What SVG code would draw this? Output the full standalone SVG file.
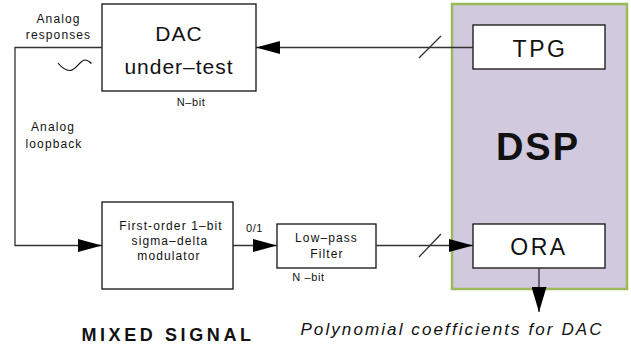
<svg xmlns="http://www.w3.org/2000/svg" width="631" height="347" viewBox="0 0 631 347">
<style>
  text { font-family: "Liberation Sans", Arial, sans-serif; fill: #111; }
  .box { fill: #fff; stroke: #111; stroke-width: 1.3; }
  .ln { fill: none; stroke: #333; stroke-width: 1.3; }
  .big { font-size: 21px; letter-spacing: 1px; }
  .blk { font-size: 23px; letter-spacing: 2.5px; }
  .sm { font-size: 12px; letter-spacing: 1.1px; }
  .xs { font-size: 11px; letter-spacing: 0.6px; }
</style>
<defs>
  <marker id="ah" markerUnits="userSpaceOnUse" markerWidth="24" markerHeight="13" refX="24" refY="6.5" orient="auto">
    <path d="M0,0 L24,6.5 L0,13 z" fill="#000"/>
  </marker>
  <marker id="ahd" markerUnits="userSpaceOnUse" markerWidth="25" markerHeight="15" refX="25" refY="7.5" orient="auto">
    <path d="M0,0 L25,7.5 L0,15 z" fill="#000"/>
  </marker>
</defs>

<g id="dsp">
  <rect x="452" y="4" width="175" height="285" fill="#d1c9de" stroke="#9bbb59" stroke-width="2.5"/>
  <text x="538" y="160" text-anchor="middle" font-size="38" font-weight="bold" letter-spacing="2">DSP</text>
</g>

<g id="tpg">
  <rect class="box" x="473" y="25" width="132" height="44"/>
  <text class="blk" x="540" y="56.5" text-anchor="middle">TPG</text>
</g>

<g id="ora">
  <rect class="box" x="473" y="224" width="132" height="44"/>
  <text class="blk" x="539" y="255" text-anchor="middle">ORA</text>
</g>

<g id="dac">
  <rect class="box" x="102" y="4" width="154" height="87"/>
  <text class="big" x="179" y="40.5" text-anchor="middle">DAC</text>
  <text class="big" x="179" y="74" text-anchor="middle">under–test</text>
  <text class="xs" x="191" y="106" text-anchor="middle">N–bit</text>
</g>

<g id="modulator">
  <rect class="box" x="102" y="202" width="131" height="87"/>
  <text class="sm" x="171" y="230" text-anchor="middle">First-order 1–bit</text>
  <text class="sm" x="170" y="245" text-anchor="middle">sigma–delta</text>
  <text class="sm" x="169" y="260" text-anchor="middle">modulator</text>
</g>

<g id="lowpass">
  <rect class="box" x="277" y="224" width="99" height="44"/>
  <text class="sm" x="326.5" y="242" text-anchor="middle">Low–pass</text>
  <text class="sm" x="327" y="257.5" text-anchor="middle">Filter</text>
  <text class="xs" x="308.5" y="281" text-anchor="middle">N –bit</text>
</g>

<g id="connectors">
  <path class="ln" d="M473,47.5 H256" marker-end="url(#ah)"/>
  <path class="ln" d="M419,58 L441,36"/>
  <path class="ln" d="M102,47.5 H15 V245.5 H102" marker-end="url(#ah)"/>
  <path class="ln" d="M233,245.5 H277" marker-end="url(#ah)"/>
  <path class="ln" d="M376,245.5 H473" marker-end="url(#ah)"/>
  <path class="ln" d="M419,257 L441,234"/>
  <path class="ln" d="M539,268 V312" marker-end="url(#ahd)"/>
  <path d="M58,63 C62,68 66,70.5 70,70.5 C76,70.5 80,60 85,60 C88,60 90,62 91.5,63.5" fill="none" stroke="#111" stroke-width="1.2"/>
</g>

<g id="labels">
  <text class="sm" x="58.5" y="23" text-anchor="middle">Analog</text>
  <text class="sm" x="58.5" y="39" text-anchor="middle">responses</text>
  <text class="sm" x="53" y="131" text-anchor="middle">Analog</text>
  <text class="sm" x="54" y="147.5" text-anchor="middle">loopback</text>
  <text class="xs" x="254.5" y="232" text-anchor="middle">0/1</text>
  <text x="168" y="340.5" text-anchor="middle" font-size="18" font-weight="bold" letter-spacing="3.6">MIXED SIGNAL</text>
  <text x="452" y="335" text-anchor="middle" font-size="17" font-style="italic" letter-spacing="2.1">Polynomial coefficients for DAC</text>
</g>
</svg>
